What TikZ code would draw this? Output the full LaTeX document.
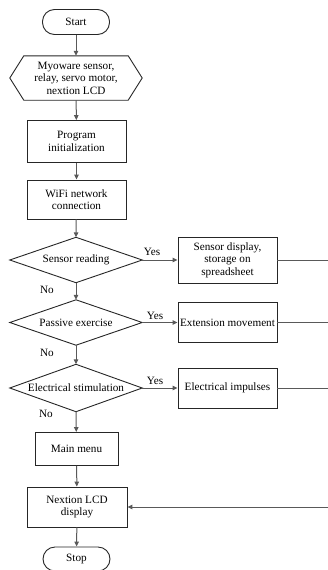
\documentclass[tikz,border=0pt]{standalone}
\usepackage{fontspec}
\setmainfont{Liberation Serif}
\usetikzlibrary{arrows.meta}
\begin{document}
\begin{tikzpicture}[x=1pt,y=-1pt,
  font=\fontsize{11.2}{12.6}\selectfont,
  box/.style={draw=black!85,line width=0.9pt,align=center,inner sep=1pt},
  term/.style={box,rounded corners=12pt},
  plain/.style={align=center,inner sep=1pt},
  shp/.style={draw=black!85,line width=0.9pt},
  conn/.style={draw=black!65,line width=1pt,-{Triangle[length=5pt,width=4.5pt]}},
  line/.style={draw=black!65,line width=1pt},
  lbl/.style={inner sep=0pt}]
\useasboundingbox (0,0) rectangle (328,570);
% main column
\node[term,minimum width=67pt,minimum height=25pt] (start) at (76,22) {Start};
\node[plain,minimum width=132pt,minimum height=44pt] (io) at (76,78) {Myoware sensor,\\relay, servo motor,\\nextion LCD};
\draw[shp] (io.west) -- ([xshift=14pt]io.north west) -- ([xshift=-14pt]io.north east) -- (io.east) -- ([xshift=-14pt]io.south east) -- ([xshift=14pt]io.south west) -- cycle;
\node[box,minimum width=99pt,minimum height=42pt] (init) at (76.5,141.5) {Program\\initialization};
\node[box,minimum width=99pt,minimum height=39pt] (wifi) at (76.5,199.5) {WiFi network\\connection};
\node[plain,minimum width=132pt,minimum height=45pt] (d1) at (76,260) {Sensor reading};
\draw[shp] (d1.north) -- (d1.east) -- (d1.south) -- (d1.west) -- cycle;
\node[plain,minimum width=132pt,minimum height=45pt] (d2) at (76,322.5) {Passive exercise};
\draw[shp] (d2.north) -- (d2.east) -- (d2.south) -- (d2.west) -- cycle;
\node[plain,minimum width=132pt,minimum height=47pt] (d3) at (76,388) {Electrical stimulation};
\draw[shp] (d3.north) -- (d3.east) -- (d3.south) -- (d3.west) -- cycle;
\node[box,minimum width=83pt,minimum height=33pt] (menu) at (76.5,449) {Main menu};
\node[box,minimum width=100pt,minimum height=40pt] (lcd) at (77,507) {Nextion LCD\\display};
\node[term,minimum width=67pt,minimum height=24pt] (stop) at (76.5,559) {Stop};
% right column
\node[box,minimum width=99pt,minimum height=46pt] (r1) at (227.5,260) {Sensor display,\\storage on\\spreadsheet};
\node[box,minimum width=99pt,minimum height=40pt,inner sep=0pt] (r2) at (227.5,322.5) {Extension movement};
\node[box,minimum width=99pt,minimum height=40pt] (r3) at (227.5,388) {Electrical impulses};
\coordinate (e1) at (328,260);
\coordinate (e2) at (328,322.5);
\coordinate (e3) at (328,388);
\coordinate (e4) at (328,507);
% connectors
\draw[conn] (start) -- (io);
\draw[conn] (io) -- (init);
\draw[conn] (init) -- (wifi);
\draw[conn] (wifi) -- (d1.north);
\draw[conn] (d1.south) -- (d2.north);
\draw[conn] (d2.south) -- (d3.north);
\draw[conn] (d3.south) -- (menu);
\draw[conn] (menu) -- (lcd);
\draw[conn] (lcd) -- (stop);
\draw[conn] (d1.east) -- (r1.west);
\draw[conn] (d2.east) -- (r2.west);
\draw[conn] (d3.east) -- (r3.west);
\draw[line] (r1.east) -- (e1);
\draw[line] (r2.east) -- (e2);
\draw[line] (r3.east) -- (e3);
\draw[conn] (e4) -- (lcd.east);
% labels
\node[lbl] (y1) at (152,252) {Yes};
\node[lbl] (y2) at (155,316) {Yes};
\node[lbl] (y3) at (155,381) {Yes};
\node[lbl] (n1) at (47,290) {No};
\node[lbl] (n2) at (47,353) {No};
\node[lbl] (n3) at (46,414) {No};
\end{tikzpicture}
\end{document}
